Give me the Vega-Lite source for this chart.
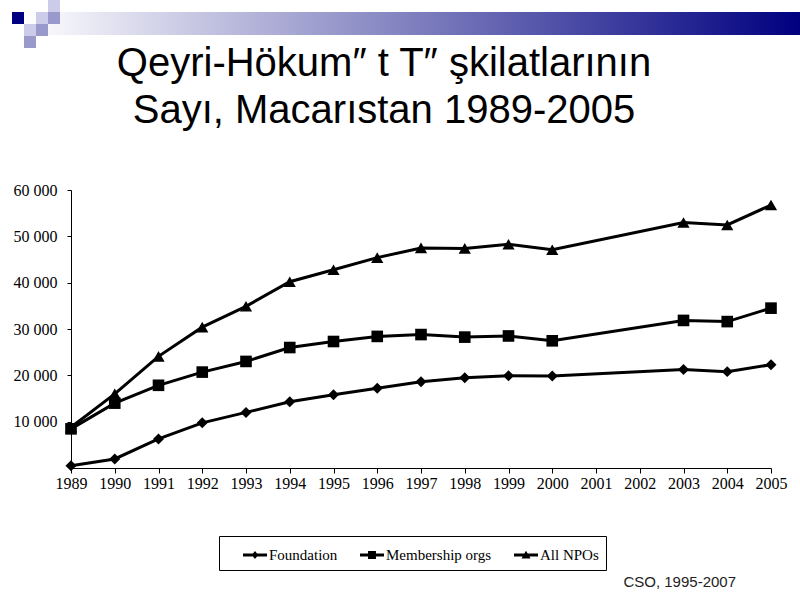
{
  "$schema": "https://vega.github.io/schema/vega-lite/v6.json",
  "padding": 0,
  "background": "white",
  "spacing": -4,
  "config": {"view": {"stroke": null}},
  "resolve": {"scale": {"color": "independent"}},
  "title": {"text": "CSO, 1995-2007", "orient": "bottom", "anchor": "end", "font": "Liberation Sans", "fontSize": 15, "fontWeight": "normal", "color": "#222222", "offset": 4, "dx": -64},
  "vconcat": [
    {
      "width": 729,
      "height": 48,
      "data": {"values": [
        {"kind": "bar", "x0": 2, "x1": 66.667, "y0": 1, "y1": 2.92, "shade": "bar"},
        {"kind": "square", "x0": 1, "x1": 2, "y0": 1, "y1": 2, "shade": "navy"},
        {"kind": "square", "x0": 3, "x1": 4, "y0": 1, "y1": 2, "shade": "light"},
        {"kind": "square", "x0": 4, "x1": 5, "y0": 1, "y1": 2, "shade": "medium"},
        {"kind": "square", "x0": 4, "x1": 5, "y0": 0, "y1": 1, "shade": "light"},
        {"kind": "square", "x0": 2, "x1": 3, "y0": 2, "y1": 3, "shade": "light"},
        {"kind": "square", "x0": 3, "x1": 4, "y0": 2, "y1": 3, "shade": "medium"},
        {"kind": "square", "x0": 2, "x1": 3, "y0": 3, "y1": 4, "shade": "medium"}
      ]},
      "encoding": {
        "x": {"field": "x0", "type": "quantitative", "scale": {"domain": [5.917, 66.667], "nice": false, "zero": false}, "axis": null},
        "x2": {"field": "x1"},
        "y": {"field": "y0", "type": "quantitative", "scale": {"domain": [0, 4], "nice": false, "reverse": true}, "axis": null},
        "y2": {"field": "y1"}
      },
      "layer": [
        {
          "transform": [{"filter": "datum.kind == 'bar'"}],
          "mark": {"type": "rect", "clip": false, "fill": {"gradient": "linear", "x1": 0, "x2": 1, "y1": 0, "y2": 0, "stops": [{"offset": 0, "color": "#ffffff"}, {"offset": 1, "color": "#000080"}]}, "stroke": null}
        },
        {
          "transform": [{"filter": "datum.kind == 'square'"}],
          "mark": {"type": "rect", "stroke": null, "clip": false},
          "encoding": {
            "color": {"field": "shade", "type": "nominal", "scale": {"domain": ["navy", "light", "medium"], "range": ["#000080", "#ccccea", "#9999cc"]}, "legend": null}
          }
        }
      ]
    },
    {
      "width": 700,
      "height": 278,
      "title": {
        "text": ["Qeyri-Hökum″ t T″ şkilatlarının", "Sayı, Macarıstan 1989-2005"],
        "font": "Liberation Sans", "fontSize": 40, "fontWeight": "normal", "color": "black",
        "lineHeight": 47, "anchor": "middle", "frame": "group", "dx": -37, "offset": 51
      },
      "data": {"values": [
        {"year": 1989, "series": "Foundation", "value": 500},
        {"year": 1990, "series": "Foundation", "value": 1950},
        {"year": 1991, "series": "Foundation", "value": 6280},
        {"year": 1992, "series": "Foundation", "value": 9750},
        {"year": 1993, "series": "Foundation", "value": 12000},
        {"year": 1994, "series": "Foundation", "value": 14300},
        {"year": 1995, "series": "Foundation", "value": 15800},
        {"year": 1996, "series": "Foundation", "value": 17200},
        {"year": 1997, "series": "Foundation", "value": 18600},
        {"year": 1998, "series": "Foundation", "value": 19500},
        {"year": 1999, "series": "Foundation", "value": 19900},
        {"year": 2000, "series": "Foundation", "value": 19850},
        {"year": 2003, "series": "Foundation", "value": 21250},
        {"year": 2004, "series": "Foundation", "value": 20800},
        {"year": 2005, "series": "Foundation", "value": 22300},
        {"year": 1989, "series": "Membership orgs", "value": 8450},
        {"year": 1990, "series": "Membership orgs", "value": 14000},
        {"year": 1991, "series": "Membership orgs", "value": 17850},
        {"year": 1992, "series": "Membership orgs", "value": 20700},
        {"year": 1993, "series": "Membership orgs", "value": 23000},
        {"year": 1994, "series": "Membership orgs", "value": 26000},
        {"year": 1995, "series": "Membership orgs", "value": 27300},
        {"year": 1996, "series": "Membership orgs", "value": 28400},
        {"year": 1997, "series": "Membership orgs", "value": 28800},
        {"year": 1998, "series": "Membership orgs", "value": 28250},
        {"year": 1999, "series": "Membership orgs", "value": 28500},
        {"year": 2000, "series": "Membership orgs", "value": 27450},
        {"year": 2003, "series": "Membership orgs", "value": 31850},
        {"year": 2004, "series": "Membership orgs", "value": 31600},
        {"year": 2005, "series": "Membership orgs", "value": 34500},
        {"year": 1989, "series": "All NPOs", "value": 8800},
        {"year": 1990, "series": "All NPOs", "value": 16000},
        {"year": 1991, "series": "All NPOs", "value": 24100},
        {"year": 1992, "series": "All NPOs", "value": 30400},
        {"year": 1993, "series": "All NPOs", "value": 34900},
        {"year": 1994, "series": "All NPOs", "value": 40200},
        {"year": 1995, "series": "All NPOs", "value": 42800},
        {"year": 1996, "series": "All NPOs", "value": 45400},
        {"year": 1997, "series": "All NPOs", "value": 47500},
        {"year": 1998, "series": "All NPOs", "value": 47400},
        {"year": 1999, "series": "All NPOs", "value": 48300},
        {"year": 2000, "series": "All NPOs", "value": 47100},
        {"year": 2003, "series": "All NPOs", "value": 53000},
        {"year": 2004, "series": "All NPOs", "value": 52450},
        {"year": 2005, "series": "All NPOs", "value": 56750}
      ]},
      "encoding": {
        "x": {
          "field": "year", "type": "quantitative",
          "scale": {"domain": [1989, 2005], "nice": false, "zero": false},
          "axis": {
            "values": [1989, 1990, 1991, 1992, 1993, 1994, 1995, 1996, 1997, 1998, 1999, 2000, 2001, 2002, 2003, 2004, 2005],
            "format": "d", "title": null, "grid": false,
            "domainColor": "black", "tickColor": "black", "tickSize": 5,
            "labelFont": "Liberation Serif, Times New Roman, serif", "labelFontSize": 16, "labelColor": "black",
            "labelPadding": 2, "labelFlush": false, "labelOverlap": false, "labelBound": false
          }
        },
        "y": {
          "field": "value", "type": "quantitative",
          "scale": {"domain": [0, 60000], "nice": false},
          "axis": {
            "values": [10000, 20000, 30000, 40000, 50000, 60000],
            "labelExpr": "replace(format(datum.value, ','), ',', ' ')",
            "title": null, "grid": false,
            "domainColor": "black", "tickColor": "black", "tickSize": 4,
            "labelPadding": 10,
            "labelFont": "Liberation Serif, Times New Roman, serif", "labelFontSize": 16, "labelColor": "black",
            "minExtent": 71, "maxExtent": 71
          }
        }
      },
      "layer": [
        {
          "mark": {"type": "line", "strokeWidth": 3},
          "encoding": {
            "color": {
              "field": "series", "type": "nominal",
              "scale": {"domain": ["Foundation", "Membership orgs", "All NPOs"], "range": ["black", "black", "black"]},
              "legend": {
                "orient": "none", "legendX": 148, "legendY": 346, "direction": "horizontal",
                "title": " ", "titleOrient": "left", "titlePadding": 17, "titleFontSize": 15,
                "strokeColor": "black", "padding": 7,
                "symbolSize": 576, "symbolStrokeWidth": 0,
                "labelFont": "Liberation Serif, Times New Roman, serif", "labelFontSize": 15, "labelColor": "black",
                "labelOffset": 2, "columnPadding": 22,
                "labelExpr": "datum.label == 'All NPOs' ? 'All NPOs\u00a0\u00a0\u00a0\u00a0\u00a0\u00a0\u00a0' : datum.label",
                "encode": {
                  "symbols": {
                    "update": {
                      "shape": {"signal": "datum.value == 'Foundation' ? 'M-1,-0.125H1V0.125H-1Z M0,-0.33L0.27,0L0,0.33L-0.27,0Z' : datum.value == 'Membership orgs' ? 'M-1,-0.125H1V0.125H-1Z M-0.33,-0.33H0.33V0.33H-0.33Z' : 'M-1,-0.125H1V0.125H-1Z M0,-0.36L0.38,0.3H-0.38Z'"},
                      "fill": {"value": "black"},
                      "stroke": {"value": "transparent"}
                    }
                  }
                }
              }
            }
          }
        },
        {
          "mark": {"type": "point", "filled": true, "color": "black", "opacity": 1},
          "encoding": {
            "shape": {
              "field": "series", "type": "nominal",
              "scale": {"domain": ["Foundation", "Membership orgs", "All NPOs"], "range": ["diamond", "square", "triangle-up"]},
              "legend": null
            },
            "size": {
              "field": "series", "type": "ordinal",
              "scale": {"domain": ["Foundation", "Membership orgs", "All NPOs"], "range": [120, 150, 170]},
              "legend": null
            }
          }
        }
      ]
    }
  ]
}
